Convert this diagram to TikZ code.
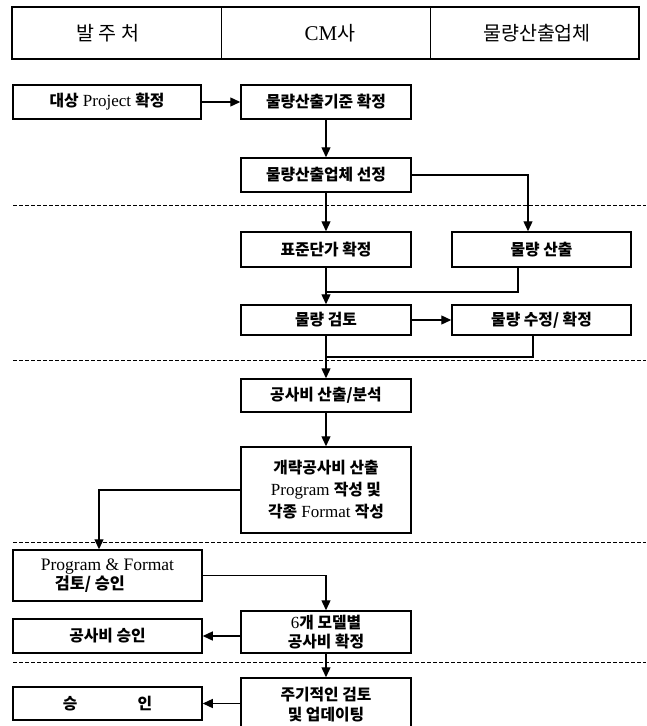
\documentclass[tikz,border=0pt]{standalone}
\usepackage{fontspec}
\setmainfont{Liberation Serif}
\newfontfamily\kr[Scale=0.93]{Noto Sans CJK KR}
\newcommand{\K}[1]{{\kr\bfseries #1}}
\newcommand{\KH}[1]{{\kr #1}}
\newcommand{\boxfont}{\fontsize{17}{22}\selectfont}
\newcommand{\headfont}{\fontsize{21}{24}\selectfont}
\usetikzlibrary{arrows.meta}
\begin{document}
\begin{tikzpicture}[x=1pt,y=-1pt,
  box/.style={draw, line width=1.5pt, inner sep=0pt, align=center, font=\boxfont},
  arr/.style={line width=1.3pt, -{Triangle[length=10pt,width=9pt]}},
  conn/.style={line width=1.3pt},
  sep/.style={line width=1pt, dash pattern=on 4pt off 2pt},
  head/.style={font=\headfont, inner sep=0pt}]
\useasboundingbox[fill=white] (0,0) rectangle (646,726);
% header
\draw[line width=2pt] (12,7) rectangle (639,59);
\draw[line width=1pt] (221,7) -- (221,59);
\draw[line width=1pt] (430,7) -- (430,59);
\node[head] (h1) at (108,33) {\KH{발 주 처}};
\node[head] (h2) at (330,33) {CM\KH{사}};
\node[head] (h3) at (537,33) {\KH{물량산출업체}};
% separators
\draw[sep] (13,205) -- (646,205);
\draw[sep] (13,360) -- (646,360);
\draw[sep] (13,542) -- (646,542);
\draw[sep] (13,662) -- (646,662);
% boxes
\node[box, minimum width=188, minimum height=34] (a) at (107,102) {\K{대상} Project \K{확정}};
\node[box, minimum width=170, minimum height=34] (b) at (326,102) {\K{물량산출기준 확정}};
\node[box, minimum width=170, minimum height=34] (c) at (326,175) {\K{물량산출업체 선정}};
\node[box, minimum width=170, minimum height=35] (d) at (326,249.5) {\K{표준단가 확정}};
\node[box, minimum width=179, minimum height=35] (e) at (541.5,249.5) {\K{물량 산출}};
\node[box, minimum width=170, minimum height=30] (f) at (326,320) {\K{물량 검토}};
\node[box, minimum width=179, minimum height=30] (g) at (541.5,320) {\K{물량 수정/ 확정}};
\node[box, minimum width=170, minimum height=33] (h) at (326,395.5) {\K{공사비 산출/분석}};
\node[box, minimum width=170, minimum height=86] (i) at (326,490) {\K{개략공사비 산출}\\Program \K{작성 및}\\\K{각종} Format \K{작성}};
\node[box, minimum width=189, minimum height=51, align=left, font=\fontsize{17.5}{19}\selectfont] (j) at (107.5,575.5) {Program \& Format\\\hspace*{14pt}\K{검토/ 승인}};
\node[box, minimum width=170, minimum height=42, font=\fontsize{17}{19}\selectfont] (k) at (326,632) {6\K{개 모델별}\\\K{공사비 확정}};
\node[box, minimum width=189, minimum height=34] (l) at (107.5,636) {\K{공사비 승인}};
\node[box, minimum width=170, minimum height=54, font=\fontsize{17}{20}\selectfont] (m) at (326,705) {\K{주기적인 검토}\\\K{및 업데이팅}};
\node[box, minimum width=189, minimum height=33] (n) at (107.5,703.5) {\K{승}\hspace{60pt}\K{인}};
% junction coordinates
\coordinate (m1) at (326,292);
\coordinate (m2) at (326,357);
% connectors
\draw[arr] (a.east) -- (b.west);
\draw[arr] (b) -- (c);
\draw[arr] (c.east) -| ([xshift=-13.5pt]e.north);
\draw[arr] (c) -- (d);
\draw[arr] (d) -- (f);
\draw[conn] ([xshift=-23.5pt]e.south) |- (m1);
\draw[arr] (f.east) -- (g.west);
\draw[arr] (f) -- (h);
\draw[conn] ([xshift=-8.5pt]g.south) |- (m2);
\draw[arr] (h) -- (i);
\draw[arr] (i.west) -| ([xshift=-8.5pt]j.north);
\draw[arr] (j.east) -| (k.north);
\draw[arr] (l.east -| k.west) -- (l.east);
\draw[arr] (k) -- (m);
\draw[arr] (n.east -| m.west) -- (n.east);
\end{tikzpicture}
\end{document}
